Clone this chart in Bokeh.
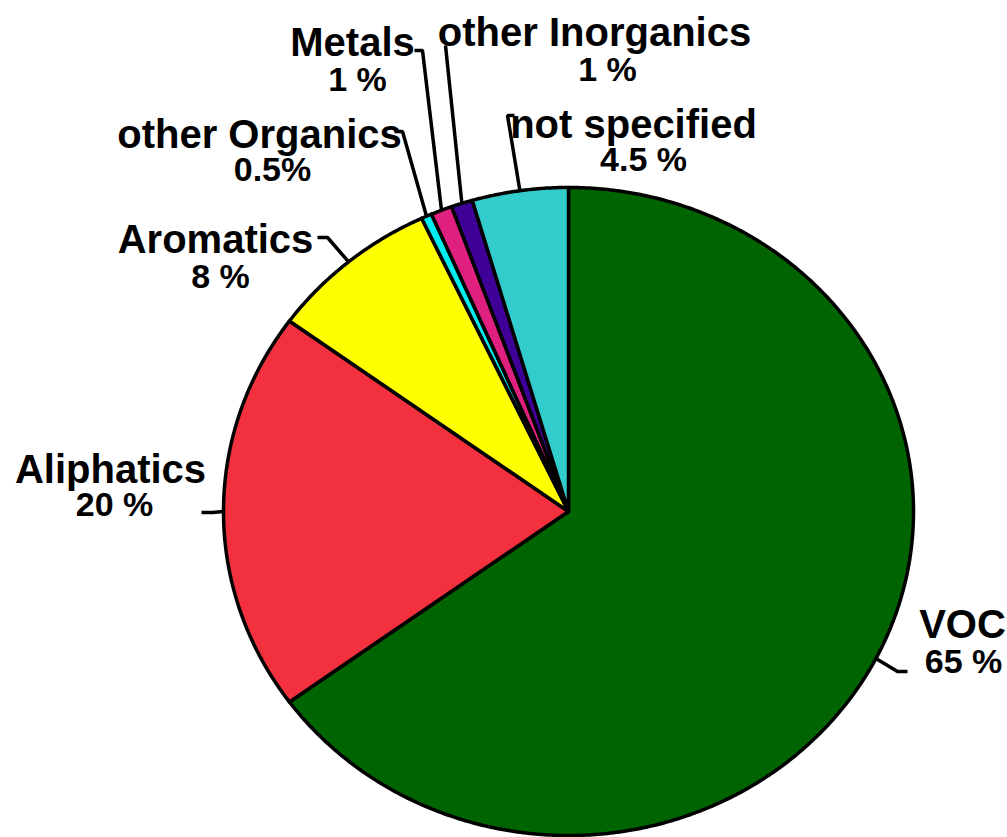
import math
from bokeh.plotting import figure
from bokeh.models import Range1d
from bokeh.core.properties import value
from bokeh.embed import file_html
from bokeh.resources import INLINE

# Composition shares, clockwise from 12 o'clock
categories = ["VOC", "Aliphatics", "Aromatics", "other Organics",
              "Metals", "other Inorganics", "not specified"]
shares = [65, 20, 8, 0.5, 1, 1, 4.5]
pct_labels = ["65 %", "20 %", "8 %", "0.5%", "1 %", "1 %", "4.5 %"]
colors = ["#006400", "#f2303e", "#ffff00", "#00eeee",
          "#e0207f", "#3e0097", "#33cccc"]

W, H = 1007, 837
CX, CY = 568, 511          # pie centre (screen px, y downwards)
RX, RY = 345, 324          # slightly flattened pie

# label layout: name centre/baseline, percent centre/baseline, leader elbow, leader end
layout = {
    "VOC":              dict(name=(962, 635), pct=(963, 670), elbow=(897, 671), end=(907, 671)),
    "Aliphatics":       dict(name=(110, 480), pct=(114, 513), elbow=(212, 512), end=(201, 512)),
    "Aromatics":        dict(name=(215, 250), pct=(220, 285), elbow=(327, 237), end=(317, 237)),
    "other Organics":   dict(name=(259, 145), pct=(272, 178), elbow=(402, 131), end=(394, 131)),
    "Metals":           dict(name=(352, 53),  pct=(357, 88),  elbow=(422, 50),  end=(414, 50)),
    "other Inorganics": dict(name=(594, 43),  pct=(607, 78),  elbow=(445, 45),  end=(445, 45)),
    "not specified":    dict(name=(633, 135), pct=(643, 168), elbow=(507, 115), end=(514, 115)),
}
NAME_SHIFT = -12   # baseline correction for the SVG text renderer
PCT_SHIFT = -10

p = figure(width=W, height=H, output_backend="svg", toolbar_location=None,
           x_range=Range1d(0, W), y_range=Range1d(H, 0),
           min_border=0, outline_line_color=None)
p.axis.visible = False
p.grid.visible = False
p.background_fill_color = "white"

total = sum(shares)
xs, ys, anchors = [], [], []
start = 90.0
for s in shares:
    sweep = 360.0 * s / total
    end = start - sweep
    n = max(4, int(sweep * 2))
    px, py = [CX], [CY]
    for i in range(n + 1):
        a = math.radians(start + (end - start) * i / n)
        px.append(CX + RX * math.cos(a))
        py.append(CY - RY * math.sin(a))
    xs.append(px)
    ys.append(py)
    mid = math.radians((start + end) / 2)
    anchors.append((CX + RX * math.cos(mid), CY - RY * math.sin(mid)))
    start = end

p.patches(xs, ys, fill_color=colors, line_color="black", line_width=3.5,
          line_join="round")

# leader lines
lx, ly = [], []
for cat, (ax, ay) in zip(categories, anchors):
    L = layout[cat]
    lx.append([ax, L["elbow"][0], L["end"][0]])
    ly.append([ay, L["elbow"][1], L["end"][1]])
p.multi_line(lx, ly, line_color="black", line_width=3.5)

font = value("Liberation Sans")
p.text(x=[layout[c]["name"][0] for c in categories],
       y=[layout[c]["name"][1] + NAME_SHIFT for c in categories],
       text=categories, text_font=font, text_font_style="bold",
       text_font_size="40px", text_align="center", text_baseline="alphabetic",
       text_color="black")
p.text(x=[layout[c]["pct"][0] for c in categories],
       y=[layout[c]["pct"][1] + PCT_SHIFT for c in categories],
       text=pct_labels, text_font=font, text_font_style="bold",
       text_font_size="34px", text_align="center", text_baseline="alphabetic",
       text_color="black")

open("out.html", "w").write(file_html(p, INLINE))
